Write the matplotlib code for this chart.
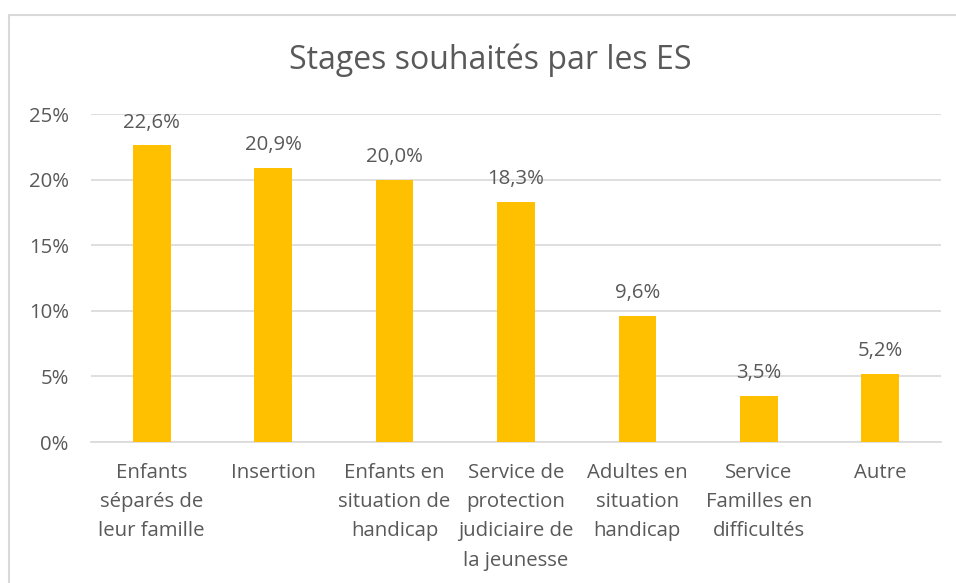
import matplotlib.pyplot as plt
from matplotlib.patches import Rectangle
from matplotlib.ticker import FuncFormatter

categories = [
    "Enfants\nséparés de\nleur famille",
    "Insertion",
    "Enfants en\nsituation de\nhandicap",
    "Service de\nprotection\njudiciaire de\nla jeunesse",
    "Adultes en\nsituation\nhandicap",
    "Service\nFamilles en\ndifficultés",
    "Autre",
]
values = [22.6, 20.9, 20.0, 18.3, 9.6, 3.5, 5.2]
yticks = [0, 5, 10, 15, 20, 25]

text_color = "#595959"
bar_color = "#FFC000"
grid_color = "#D9D9D9"

plt.rcParams['font.family'] = ['Open Sans', 'DejaVu Sans']

W, H = 956, 583
fig = plt.figure(figsize=(W / 100, H / 100), dpi=100)

# chart border (right and bottom edges run off the image)
fig.patches.append(Rectangle((9 / W, -1), 2, 1 + (H - 15) / H, transform=fig.transFigure,
                             fill=False, edgecolor=grid_color, linewidth=1.5))

ax = fig.add_axes([91 / W, (H - 442) / H, 850 / W, 328 / H])
x = range(len(values))
bars = ax.bar(x, values, width=0.31, color=bar_color, zorder=3)

ax.set_xlim(-0.5, len(values) - 0.5)
ax.set_ylim(0, 25)
ax.set_yticks(yticks)
ax.yaxis.set_major_formatter(FuncFormatter(lambda v, p: f"{v:.0f}%"))
ax.grid(axis="y", color=grid_color, linewidth=1.2, zorder=0)
for s in ["top", "right", "left"]:
    ax.spines[s].set_visible(False)
ax.spines["bottom"].set_color(grid_color)
ax.spines["bottom"].set_linewidth(1.2)
ax.tick_params(length=0, colors=text_color, labelsize=14.7)
ax.tick_params(axis="y", pad=16)
ax.tick_params(axis="x", pad=15)
ax.set_xticks(list(x))
ax.set_xticklabels(categories, linespacing=1.62, va="top")

for b, v in zip(bars, values):
    ax.annotate(f"{v:.1f}".replace(".", ",") + "%", (b.get_x() + b.get_width() / 2, v),
                xytext=(0, 16.5), textcoords="offset points", ha="center", va="center",
                color=text_color, fontsize=14.7)

fig.text(490 / W, 1 - 60 / H, "Stages souhaités par les ES", ha="center", va="center",
         color=text_color, fontsize=23)

fig.savefig("out.png", dpi=100)
